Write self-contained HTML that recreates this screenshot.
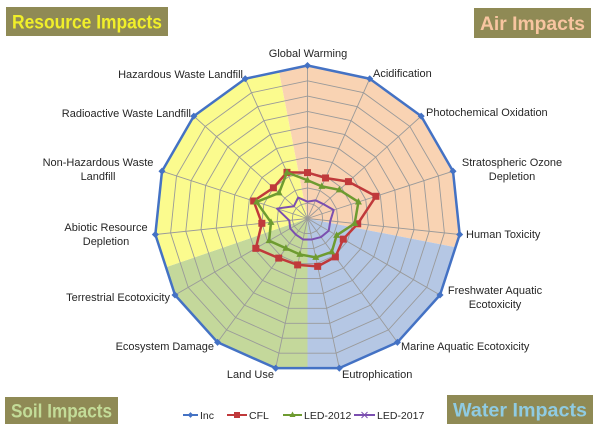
<!DOCTYPE html>
<html><head><meta charset="utf-8"><style>
html,body{margin:0;padding:0;background:#fff;width:600px;height:430px;overflow:hidden}
svg{display:block;position:absolute;left:0;top:0}
text{font-family:"Liberation Sans",sans-serif;font-size:11px;fill:#262626}
.t{font-weight:bold;font-size:19px}
</style></head><body>
<svg id="s" width="600" height="430" xmlns="http://www.w3.org/2000/svg"></svg>
<script>
const cx=307.5,cy=218.5,R=153,N=15;
let h='';
function pt(i,r){const a=i*2*Math.PI/N;return [cx+R*r*Math.sin(a),cy-R*r*Math.cos(a)];}
function poly(r){let p=[];for(let i=0;i<N;i++)p.push(pt(i,r).map(v=>v.toFixed(1)).join(','));return p.join(' ');}
function dir(deg){const a=deg*Math.PI/180;return [cx+400*Math.sin(a),cy-400*Math.cos(a)];}
h+='<defs><clipPath id="c"><polygon points="'+poly(1)+'"/></clipPath></defs><g clip-path="url(#c)">';
const secs=[[-11,101,'#f9d3b3'],[101,180,'#b5c7e4'],[180,251,'#c4d89b'],[251,349,'#fbfb8e']];
for(const [a,b,c] of secs){let p=[[cx,cy]];for(let d=a;d<=b;d+=5)p.push(dir(d));p.push(dir(b));
h+='<polygon fill="'+c+'" points="'+p.map(q=>q.join(',')).join(' ')+'"/>';}
h+='</g>';
for(let k=1;k<=10;k++)h+='<polygon fill="none" stroke="#9a9a9a" stroke-width="0.9" points="'+poly(k/10)+'"/>';
for(let i=0;i<N;i++){const p=pt(i,1);h+='<line x1="'+cx+'" y1="'+cy+'" x2="'+p[0]+'" y2="'+p[1]+'" stroke="#9a9a9a" stroke-width="0.9"/>';}
function series(v,col,w){let p=v.map((r,i)=>pt(i,r));return '<polygon fill="none" stroke="'+col+'" stroke-width="'+w+'" stroke-linejoin="round" points="'+p.map(q=>q.join(',')).join(' ')+'"/>';}
const inc=Array(N).fill(1);
const cfl=[.30,.29,.36,.47,.33,.27,.31,.32,.31,.32,.39,.30,.37,.30,.33];
const led=[.25,.23,.28,.35,.31,.22,.27,.26,.24,.24,.29,.24,.35,.25,.33];
const l17=[.11,.13,.14,.18,.15,.16,.15,.14,.14,.13,.13,.12,.21,.12,.15];
h+=series(inc,'#4472c4',2.5);
inc.forEach((r,i)=>{const p=pt(i,r);h+='<rect x="'+(p[0]-2.5)+'" y="'+(p[1]-2.5)+'" width="5" height="5" fill="#4472c4" transform="rotate(45 '+p[0]+' '+p[1]+')"/>';});
h+=series(cfl,'#c0393b',2.5);
cfl.forEach((r,i)=>{const p=pt(i,r);h+='<rect x="'+(p[0]-3.5)+'" y="'+(p[1]-3.5)+'" width="7" height="7" fill="#c0393b"/>';});
h+=series(led,'#6e9b30',2.5);
led.forEach((r,i)=>{const p=pt(i,r);h+='<polygon fill="#6e9b30" points="'+p[0]+','+(p[1]-4)+' '+(p[0]+3.5)+','+(p[1]+2.5)+' '+(p[0]-3.5)+','+(p[1]+2.5)+'"/>';});
h+=series(l17,'#7b4fb0',2);
const L=[
[308,57,'middle',['Global Warming']],[373,77,'start',['Acidification']],[426,116,'start',['Photochemical Oxidation']],
[512,166,'middle',['Stratospheric Ozone','Depletion']],[466,238,'start',['Human Toxicity']],[495,294,'middle',['Freshwater Aquatic','Ecotoxicity']],
[401,350,'start',['Marine Aquatic Ecotoxicity']],[342,378,'start',['Eutrophication']],[274,378,'end',['Land Use']],
[214,350,'end',['Ecosystem Damage']],[170,301,'end',['Terrestrial Ecotoxicity']],[106,231,'middle',['Abiotic Resource','Depletion']],
[98,166,'middle',['Non-Hazardous Waste','Landfill']],[191,117,'end',['Radioactive Waste Landfill']],[243,78,'end',['Hazardous Waste Landfill']]];
for(const [x,y,a,ls] of L)ls.forEach((s,j)=>{h+='<text x="'+x+'" y="'+(y+j*14)+'" text-anchor="'+a+'">'+s+'</text>';});
const B=[[6,7,162,29,'#f0ef2a','Resource Impacts'],[474,8,117,30,'#f8c5a0','Air Impacts'],[5,397,113,27,'#c3dc98','Soil Impacts'],[447,395,146,29,'#8fcbe2','Water Impacts']];
for(const [x,y,w,hh,c,s] of B){h+='<rect x="'+x+'" y="'+y+'" width="'+w+'" height="'+hh+'" fill="#8f8a55"/><text class="t" x="'+(x+w/2)+'" y="'+(y+hh/2+7)+'" text-anchor="middle" textLength="'+(w-12)+'" lengthAdjust="spacingAndGlyphs" style="fill:'+c+'">'+s+'</text>';}
const G=[[183,200,'Inc','#4472c4','d'],[227,249,'CFL','#c0393b','s'],[283,304,'LED-2012','#6e9b30','t'],[354,377,'LED-2017','#7b4fb0','x']];
const ly=415;
for(const [x1,tx,s,c,m] of G){const x2=tx-2,mx=(x1+x2)/2;
h+='<line x1="'+x1+'" y1="'+ly+'" x2="'+x2+'" y2="'+ly+'" stroke="'+c+'" stroke-width="2"/>';
if(m=='d')h+='<rect x="'+(mx-2)+'" y="'+(ly-2)+'" width="4" height="4" fill="'+c+'" transform="rotate(45 '+mx+' '+ly+')"/>';
if(m=='s')h+='<rect x="'+(mx-3)+'" y="'+(ly-3)+'" width="6" height="6" fill="'+c+'"/>';
if(m=='t')h+='<polygon fill="'+c+'" points="'+mx+','+(ly-3.5)+' '+(mx+3)+','+(ly+2)+' '+(mx-3)+','+(ly+2)+'"/>';
if(m=='x')h+='<path d="M'+(mx-3)+' '+(ly-3)+'L'+(mx+3)+' '+(ly+3)+'M'+(mx-3)+' '+(ly+3)+'L'+(mx+3)+' '+(ly-3)+'" stroke="'+c+'" stroke-width="1"/>';
h+='<text x="'+tx+'" y="'+(ly+4)+'" style="font-size:10.5px">'+s+'</text>';}
document.getElementById('s').innerHTML=h;
</script>
</body></html>
